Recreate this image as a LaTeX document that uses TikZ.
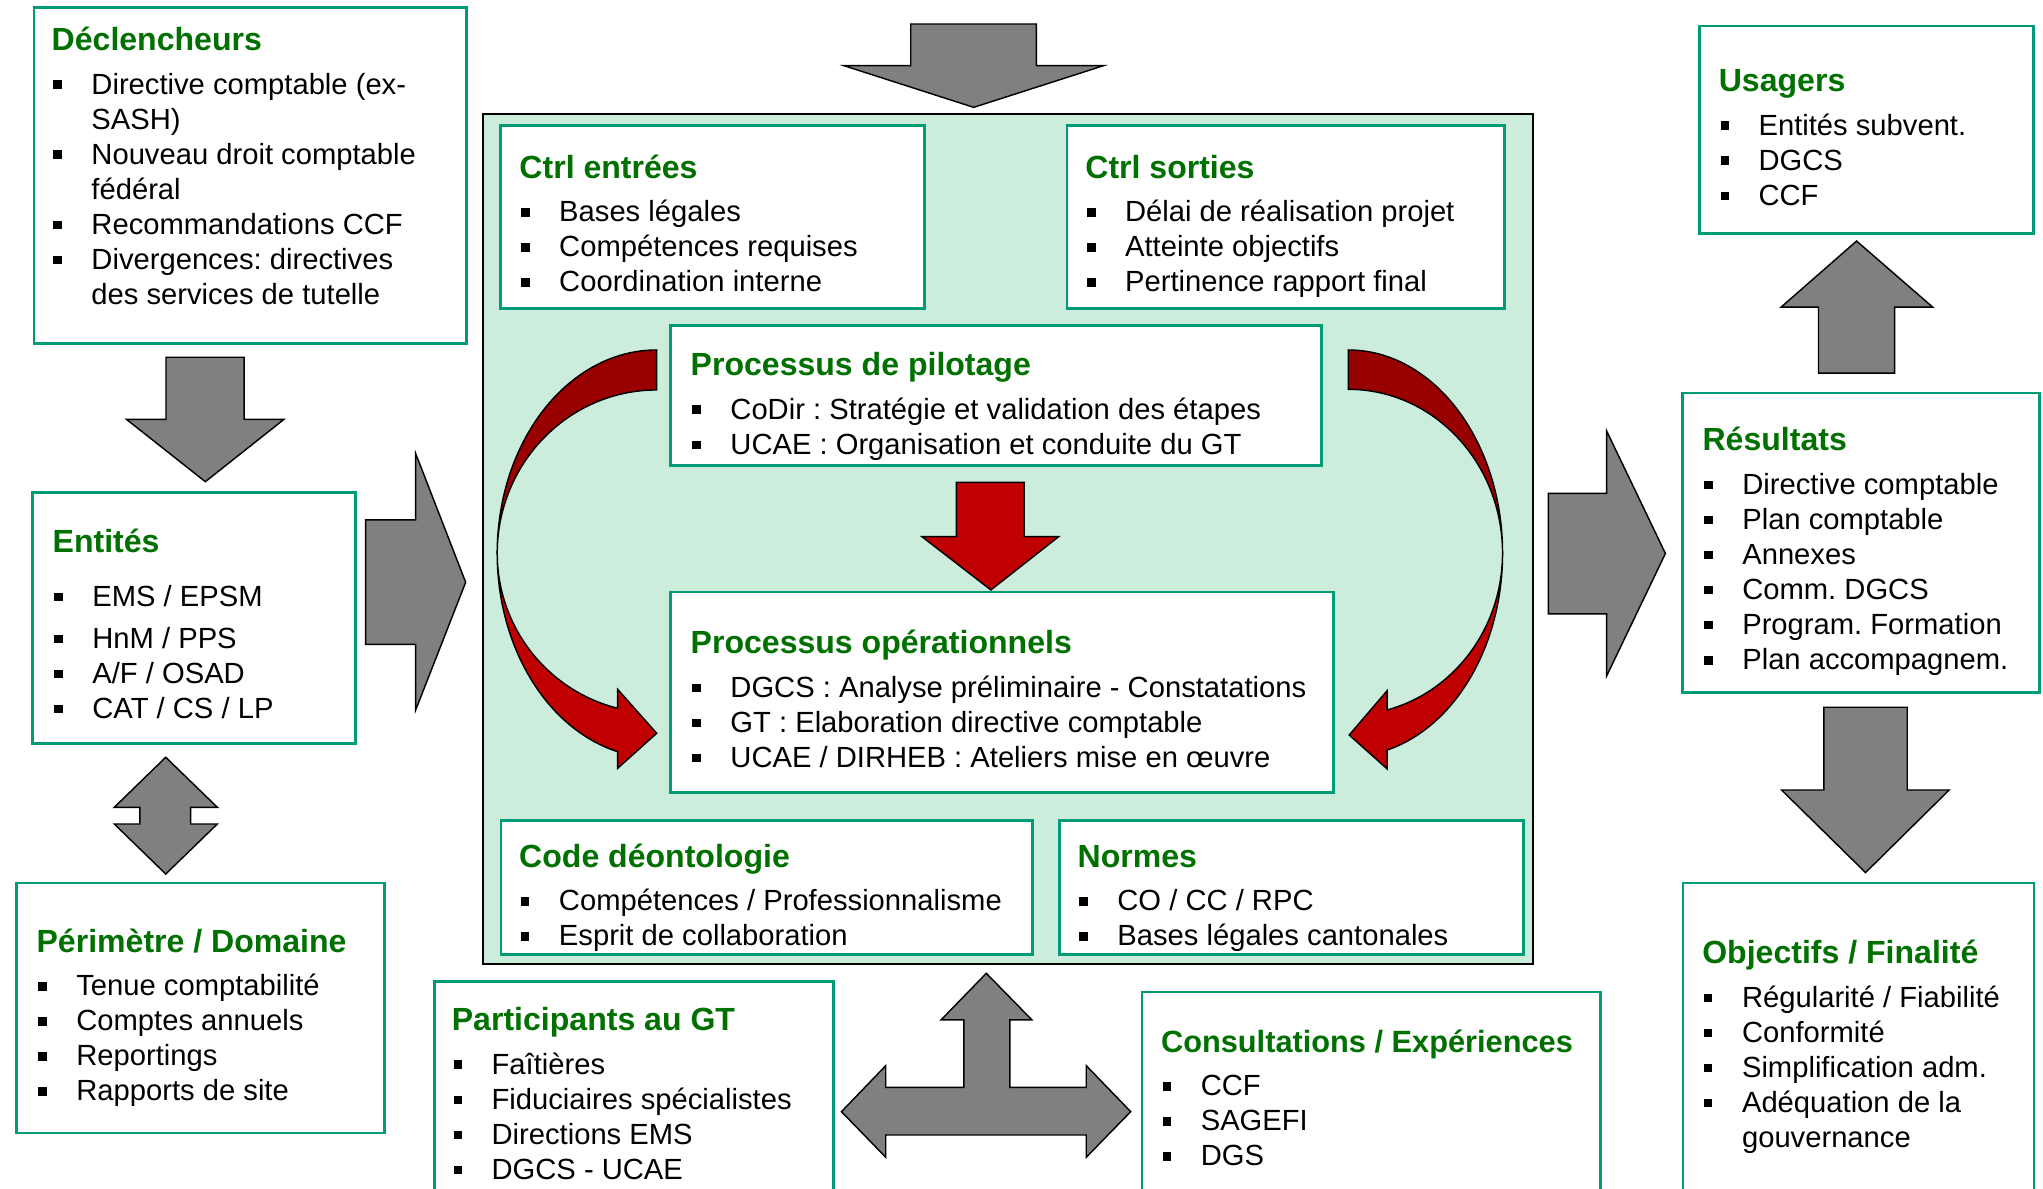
\documentclass[tikz,border=0pt]{standalone}
\usepackage{fontspec}
\setmainfont{Liberation Sans}
\usepackage{tikz}
\frenchspacing

\definecolor{boxline}{RGB}{0,155,119}
\definecolor{titlegreen}{RGB}{0,112,0}
\definecolor{mint}{RGB}{204,236,220}
\definecolor{arrowgray}{RGB}{128,128,128}
\definecolor{darkred}{RGB}{153,0,0}
\definecolor{brightred}{RGB}{192,0,0}

\newcommand{\ttl}[2][24.6]{{\fontsize{#1}{26.9}\selectfont\bfseries\color{titlegreen}\rule{0pt}{20pt}#2}}
\newcommand{\itm}[1]{\makebox[30.5pt][l]{\hspace{1.3pt}\rule[4pt]{6.5pt}{6.5pt}}#1}
\newcommand{\cont}[1]{\hspace*{30.5pt}#1}

\begin{document}
\begin{tikzpicture}[x=1pt, y=-1pt,
	box/.style={draw=boxline, line width=2.2pt, fill=white, anchor=north west, inner sep=0pt},
	centre/.style={draw=black, line width=1.5pt, fill=mint, anchor=north west, inner sep=0pt},
	txt/.style={anchor=north west, inner sep=0pt, yshift=-1.5pt, align=left, font=\fontsize{22.4}{26.9}\selectfont},
	grayarrow/.style={draw=black, line width=1.1pt, fill=arrowgray},
	redarrow/.style={draw=black, line width=1.1pt, fill=brightred},
	backarrow/.style={draw=black, line width=1.1pt, fill=darkred}]
	\clip (0,0) rectangle (1568,912);

	% central block
	\node[centre, minimum width=805.9pt, minimum height=652.3pt] (centre) at (369.8,87) {};
	\node[box, minimum width=325.7pt, minimum height=140.5pt] (ctrlin) at (382.7,95.4) {};
	\node[box, minimum width=335.9pt, minimum height=140.5pt] (ctrlout) at (817.8,95.4) {};
	\node[box, minimum width=499.2pt, minimum height=107.7pt] (pilot) at (513.7,248.7) {};
	\node[box, minimum width=508.9pt, minimum height=153.7pt] (oper) at (513.7,453.3) {};
	\node[box, minimum width=408pt, minimum height=102.8pt] (code) at (383.4,628.8) {};
	\node[box, minimum width=356.4pt, minimum height=102.8pt] (normes) at (812,628.8) {};

	\node[txt] (ctrlin-t) at (398.5,115) {\ttl{Ctrl entrées}\\[6.6pt]
		\itm{Bases légales}\\ \itm{Compétences requises}\\ \itm{Coordination interne}};
	\node[txt] (ctrlout-t) at (832.8,115) {\ttl{Ctrl sorties}\\[6.6pt]
		\itm{Délai de réalisation projet}\\ \itm{Atteinte objectifs}\\ \itm{Pertinence rapport final}};
	\node[txt] (pilot-t) at (529.9,266.5) {\ttl{Processus de pilotage}\\[6.6pt]
		\itm{CoDir : Stratégie et validation des étapes}\\ \itm{UCAE : Organisation et conduite du GT}};
	\node[txt] (oper-t) at (529.9,480.1) {\ttl{Processus opérationnels}\\[6.6pt]
		\itm{DGCS : Analyse préliminaire - Constatations}\\ \itm{GT : Elaboration directive comptable}\\
		\itm{UCAE / DIRHEB : Ateliers mise en œuvre}};
	\node[txt] (code-t) at (398.3,643.8) {\ttl{Code déontologie}\\[6.6pt]
		\itm{Compétences / Professionnalisme}\\ \itm{Esprit de collaboration}};
	\node[txt] (normes-t) at (826.9,643.8) {\ttl{Normes}\\[6.6pt]
		\itm{CO / CC / RPC}\\ \itm{Bases légales cantonales}};

	% curved arrows pilotage -> operationnels
	\draw[backarrow] (504,268.6) arc[start angle=270, end angle=180, x radius=122.4, y radius=156.1]
		arc[start angle=180, end angle=270, x radius=122.4, y radius=125.4] -- cycle;
	\draw[redarrow] (381.6,424.7) arc[start angle=180, end angle=104.2, x radius=122.4, y radius=157]
		-- (474,589.7) -- (504,562.8) -- (474,529) -- (474,543.6)
		arc[start angle=104.2, end angle=180, x radius=122.4, y radius=122.6] -- cycle;
	\draw[backarrow] (1034.8,268.6) arc[start angle=270, end angle=360, x radius=118.4, y radius=156.1]
		arc[start angle=0, end angle=-90, x radius=118.4, y radius=125.9] -- cycle;
	\draw[redarrow] (1153.2,424.7) arc[start angle=0, end angle=75.4, x radius=118.4, y radius=156]
		-- (1064.7,590.2) -- (1035.5,564.1) -- (1064.7,530) -- (1064.6,544.9)
		arc[start angle=75.4, end angle=0, x radius=118.4, y radius=124.2] -- cycle;
	\draw[redarrow] (734,370.2) -- (786,370.2) -- (786,411.9) -- (812.5,411.9) -- (760.5,452.8)
		-- (707.6,411.9) -- (734,411.9) -- cycle;

	% left column
	\node[box, minimum width=332pt, minimum height=258pt] (decl) at (25,4.6) {};
	\node[box, minimum width=247.7pt, minimum height=192.6pt] (ent) at (24,376.6) {};
	\node[box, minimum width=282.2pt, minimum height=191.9pt] (peri) at (11.5,676.6) {};

	\node[txt] (decl-t) at (39.5,17) {\ttl{Déclencheurs}\\[6.6pt]
		\itm{Directive comptable (ex-}\\ \cont{SASH)}\\
		\itm{Nouveau droit comptable}\\ \cont{fédéral}\\
		\itm{Recommandations CCF}\\
		\itm{Divergences: directives}\\ \cont{des services de tutelle}};
	\node[txt] (ent-t) at (40.2,402) {\ttl{Entités}\\[14.9pt]
		\itm{EMS / EPSM}\\[5.1pt] \itm{HnM / PPS}\\ \itm{A/F / OSAD}\\ \itm{CAT / CS / LP}};
	\node[txt] (peri-t) at (27.9,709) {\ttl{Périmètre / Domaine}\\[6.6pt]
		\itm{Tenue comptabilité}\\ \itm{Comptes annuels}\\ \itm{Reportings}\\ \itm{Rapports de site}};

	% bottom boxes
	\node[box, minimum width=306.6pt, minimum height=200pt] (partic) at (332.2,752.1) {};
	\node[box, minimum width=351.6pt, minimum height=200pt] (consult) at (875.4,760.3) {};
	\node[txt] (partic-t) at (346.6,769.2) {\ttl{Participants au GT}\\[6.6pt]
		\itm{Faîtières}\\ \itm{Fiduciaires spécialistes}\\ \itm{Directions EMS}\\ \itm{DGCS - UCAE}};
	\node[txt] (consult-t) at (890.9,785.8) {\ttl[23.6]{Consultations / Expériences}\\[6.6pt]
		\itm{CCF}\\ \itm{SAGEFI}\\ \itm{DGS}};

	% right column
	\node[box, minimum width=256.6pt, minimum height=159.3pt] (usagers) at (1303.2,18.9) {};
	\node[box, minimum width=274pt, minimum height=229.8pt] (result) at (1290.4,300.5) {};
	\node[box, minimum width=269.4pt, minimum height=300pt] (obj) at (1290.6,676.6) {};
	\node[txt] (usagers-t) at (1319,48.5) {\ttl{Usagers}\\[6.6pt]
		\itm{Entités subvent.}\\ \itm{DGCS}\\ \itm{CCF}};
	\node[txt] (result-t) at (1306.5,324.3) {\ttl{Résultats}\\[6.6pt]
		\itm{Directive comptable}\\ \itm{Plan comptable}\\ \itm{Annexes}\\
		\itm{Comm. DGCS}\\ \itm{Program. Formation}\\ \itm{Plan accompagnem.}};
	\node[txt] (obj-t) at (1306.3,718) {\ttl{Objectifs / Finalité}\\[6.6pt]
		\itm{Régularité / Fiabilité}\\ \itm{Conformité}\\ \itm{Simplification adm.}\\
		\itm{Adéquation de la}\\ \cont{gouvernance}};

	% block arrows
	\draw[grayarrow] (699,18.4) -- (795.4,18.4) -- (795.4,50.4) -- (847,50.4) -- (747.3,82.4)
		-- (647.7,50.4) -- (699,50.4) -- cycle;
	\draw[grayarrow] (127.4,274.2) -- (187.4,274.2) -- (187.4,321.8) -- (218,321.8) -- (157.6,369.7)
		-- (97,321.8) -- (127.4,321.8) -- cycle;
	\draw[grayarrow] (280.6,399) -- (319,399) -- (319,348) -- (357.4,446.9) -- (319,545)
		-- (319,494.5) -- (280.6,494.5) -- cycle;
	\draw[grayarrow] (127.2,581.2) -- (166.8,619.6) -- (146.3,619.6) -- (146.3,632.4) -- (166.8,632.4)
		-- (127.2,670.8) -- (87.7,632.4) -- (107.4,632.4) -- (107.4,619.6) -- (87.7,619.6) -- cycle;
	\draw[grayarrow] (757,747) -- (792,782.8) -- (775,782.8) -- (775,834.5) -- (833.7,834.5)
		-- (833.7,817.9) -- (867.8,853.2) -- (833.7,888.2) -- (833.7,871.1) -- (679.8,871.1)
		-- (679.8,888.2) -- (645.8,853.2) -- (679.8,817.9) -- (679.8,834.5) -- (739.8,834.5)
		-- (739.8,782.8) -- (722.2,782.8) -- cycle;
	\draw[grayarrow] (1188.4,378.6) -- (1233,378.6) -- (1233,330.6) -- (1278.2,424.8) -- (1233,519)
		-- (1233,471.1) -- (1188.4,471.1) -- cycle;
	\draw[grayarrow] (1424.9,185) -- (1483.3,235.7) -- (1454.1,235.7) -- (1454.1,286.4)
		-- (1395.7,286.4) -- (1395.7,235.7) -- (1367,235.7) -- cycle;
	\draw[grayarrow] (1399.8,542.8) -- (1463.8,542.8) -- (1463.8,606.3) -- (1496,606.3) -- (1431.8,669.7)
		-- (1367.3,606.3) -- (1399.8,606.3) -- cycle;
\end{tikzpicture}
\end{document}
